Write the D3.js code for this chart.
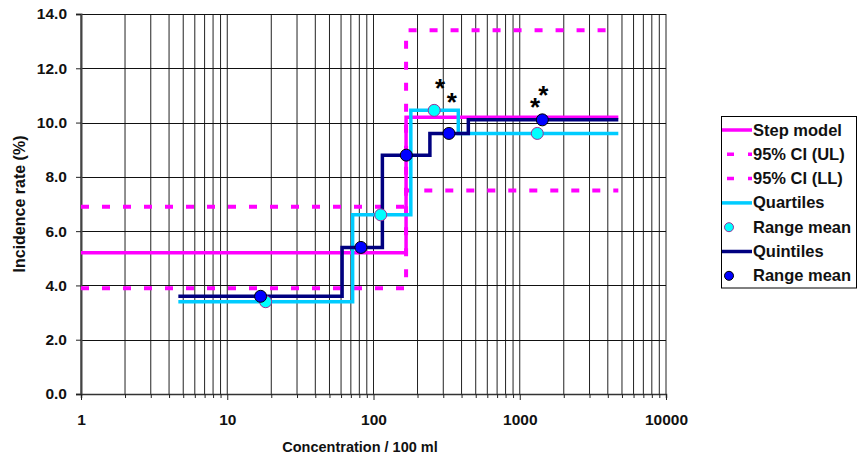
<!DOCTYPE html>
<html><head><meta charset="utf-8">
<script src="https://cdn.jsdelivr.net/npm/d3@7"></script>
<style>body{margin:0;background:#fff;}svg{display:block;font-family:"Liberation Sans",Arial,sans-serif;font-weight:bold;}</style>
</head><body><div id="chart"></div>
<script>
// ---- data ----
const xTickLabels = [1, 10, 100, 1000, 10000];
const yTickValues = [0, 2, 4, 6, 8, 10, 12, 14];

const stepBreaks = [1, 167, 4720];
const stepLevels = [5.2, 10.2];
const ciUpperLevels = [6.9, 13.4];
const ciLowerLevels = [3.9, 7.5];

const quartileBreaks = [4.63, 72, 180, 380, 4720];
const quartileLevels = [3.4, 6.6, 10.45, 9.6];
const quartileMeanX = [18.3, 112, 260, 1318];
const quartileMeanY = [3.4, 6.6, 10.45, 9.6];

const quintileBreaks = [4.63, 61, 115, 243, 445, 4720];
const quintileLevels = [3.6, 5.4, 8.8, 9.6, 10.1];
const quintileMeanX = [16.9, 82, 167.6, 328, 1427];
const quintileMeanY = [3.6, 5.4, 8.8, 9.6, 10.1];

const starX = [285, 343, 1271, 1449];
const starY = [11.46, 10.93, 10.75, 11.2];

const legendLabels = ["Step model", "95% CI (UL)", "95% CI (LL)", "Quartiles", "Range mean", "Quintiles", "Range mean"];

// ---- chart ----
const W = 858, H = 459;
const svg = d3.select("#chart").append("svg").attr("width", W).attr("height", H);
const x = d3.scaleLog().domain([1, 10000]).range([81, 666]);
const y = d3.scaleLinear().domain([0, 14]).range([394, 14]);

const MAG = "#ff00ff", CYAN = "#00ccff", NAVY = "#000080";

// grid
const minorVals = [];
for (let d = 1; d <= 1000; d *= 10) for (let k = 1; k <= 9; k++) minorVals.push(d * k);
minorVals.push(10000);
svg.append("g").selectAll("line").data(minorVals).join("line")
  .attr("x1", d => x(d)).attr("x2", d => x(d)).attr("y1", y(14)).attr("y2", y(0))
  .attr("stroke", "#222").attr("stroke-width", 1);
svg.append("g").selectAll("line").data(yTickValues).join("line")
  .attr("x1", x(1)).attr("x2", x(10000)).attr("y1", d => Math.round(y(d)) + 0.5).attr("y2", d => Math.round(y(d)) + 0.5)
  .attr("stroke", "#111").attr("stroke-width", 1);

// axes
const yAxis = svg.append("g").attr("transform", `translate(${x(1)},0)`)
  .call(d3.axisLeft(y).tickValues(yTickValues).tickFormat(d3.format(".1f")).tickSize(5).tickPadding(9));
yAxis.select(".domain").attr("stroke", "#444").attr("stroke-width", 2);
yAxis.selectAll(".tick line").attr("stroke", "#222");
yAxis.selectAll("text").attr("font-size", 15.5).attr("font-weight", "bold").attr("font-family", "Liberation Sans, Arial").attr("fill", "#111");

const xAxis = svg.append("g").attr("transform", `translate(0,${y(0)})`)
  .call(d3.axisBottom(x).tickValues(minorVals).tickSize(4).tickFormat(d => xTickLabels.includes(d) ? String(d) : ""));
xAxis.select(".domain").attr("stroke", "#333").attr("stroke-width", 1.5);
xAxis.selectAll(".tick line").attr("stroke", "#222").attr("y2", d => xTickLabels.includes(d) ? 6 : 4);
xAxis.selectAll("text").attr("font-size", 15.5).attr("font-weight", "bold").attr("font-family", "Liberation Sans, Arial").attr("fill", "#111").attr("y", 31).attr("dy", 0);

// axis titles
svg.append("text").attr("x", 360).attr("y", 452).attr("text-anchor", "middle").attr("font-size", 14.5).attr("fill", "#111").text("Concentration / 100 ml");
svg.append("text").attr("transform", "translate(25,204) rotate(-90)").attr("text-anchor", "middle").attr("font-size", 16).attr("fill", "#111").text("Incidence rate (%)");

// step helper
function stepPts(breaks, levels) {
  const pts = levels.map((v, i) => [breaks[i], v]);
  pts.push([breaks[breaks.length - 1], levels[levels.length - 1]]);
  return pts;
}
const stepLine = d3.line().x(d => x(d[0])).y(d => y(d[1])).curve(d3.curveStepAfter);

const lines = svg.append("g").attr("fill", "none");
lines.append("path").attr("d", stepLine(stepPts(stepBreaks, ciUpperLevels))).attr("stroke", MAG).attr("stroke-width", 4).attr("stroke-dasharray", "8,13");
lines.append("path").attr("d", stepLine(stepPts(stepBreaks, ciLowerLevels))).attr("stroke", MAG).attr("stroke-width", 4).attr("stroke-dasharray", "8,13");
lines.append("path").attr("d", stepLine(stepPts(stepBreaks, stepLevels))).attr("stroke", MAG).attr("stroke-width", 3.5);
lines.append("path").attr("d", stepLine(stepPts(quartileBreaks, quartileLevels))).attr("stroke", CYAN).attr("stroke-width", 3.5);
lines.append("path").attr("d", stepLine(stepPts(quintileBreaks, quintileLevels))).attr("stroke", NAVY).attr("stroke-width", 3.5);

// dots
svg.append("g").selectAll("circle").data(quartileMeanX.map((c, i) => [c, quartileMeanY[i]])).join("circle")
  .attr("cx", d => x(d[0])).attr("cy", d => y(d[1])).attr("r", 6)
  .attr("fill", "#00ffff").attr("stroke", "#993399").attr("stroke-width", 1);
svg.append("g").selectAll("circle").data(quintileMeanX.map((c, i) => [c, quintileMeanY[i]])).join("circle")
  .attr("cx", d => x(d[0])).attr("cy", d => y(d[1])).attr("r", 6)
  .attr("fill", "#0000ff").attr("stroke", "#000").attr("stroke-width", 1);

// asterisks
svg.append("g").selectAll("text").data(starX.map((c, i) => [c, starY[i]])).join("text")
  .attr("x", d => x(d[0])).attr("y", d => y(d[1])).attr("dy", 14).attr("text-anchor", "middle")
  .attr("font-size", 26).attr("fill", "#000").text("*");

// legend
const lg = svg.append("g");
lg.append("rect").attr("x", 721.5).attr("y", 116.5).attr("width", 135).attr("height", 171.5)
  .attr("fill", "#fff").attr("stroke", "#000").attr("stroke-width", 1);
const rowY = i => 130 + i * 24.3;
const lx1 = 722, lx2 = 752;
const items = [
  {type: "line", color: MAG, dash: null},
  {type: "line", color: MAG, dash: "7,14"},
  {type: "line", color: MAG, dash: "7,14"},
  {type: "line", color: CYAN, dash: null},
  {type: "dot", fill: "#00ffff", stroke: "#993399"},
  {type: "line", color: NAVY, dash: null},
  {type: "dot", fill: "#0000ff", stroke: "#000"}
];
items.forEach((it, i) => {
  const cy = rowY(i);
  if (it.type === "line") {
    const l = lg.append("line").attr("x1", lx1).attr("x2", lx2).attr("y1", cy).attr("y2", cy)
      .attr("stroke", it.color).attr("stroke-width", 3.5);
    if (it.dash) l.attr("stroke-dasharray", it.dash).attr("stroke-dashoffset", -5);
  } else {
    lg.append("circle").attr("cx", 729).attr("cy", cy).attr("r", 4.5).attr("fill", it.fill).attr("stroke", it.stroke).attr("stroke-width", 1);
  }
  lg.append("text").attr("x", 753).attr("y", cy + 5.5).attr("font-size", 16.5).attr("fill", "#111").text(legendLabels[i]);
});
</script></body></html>
